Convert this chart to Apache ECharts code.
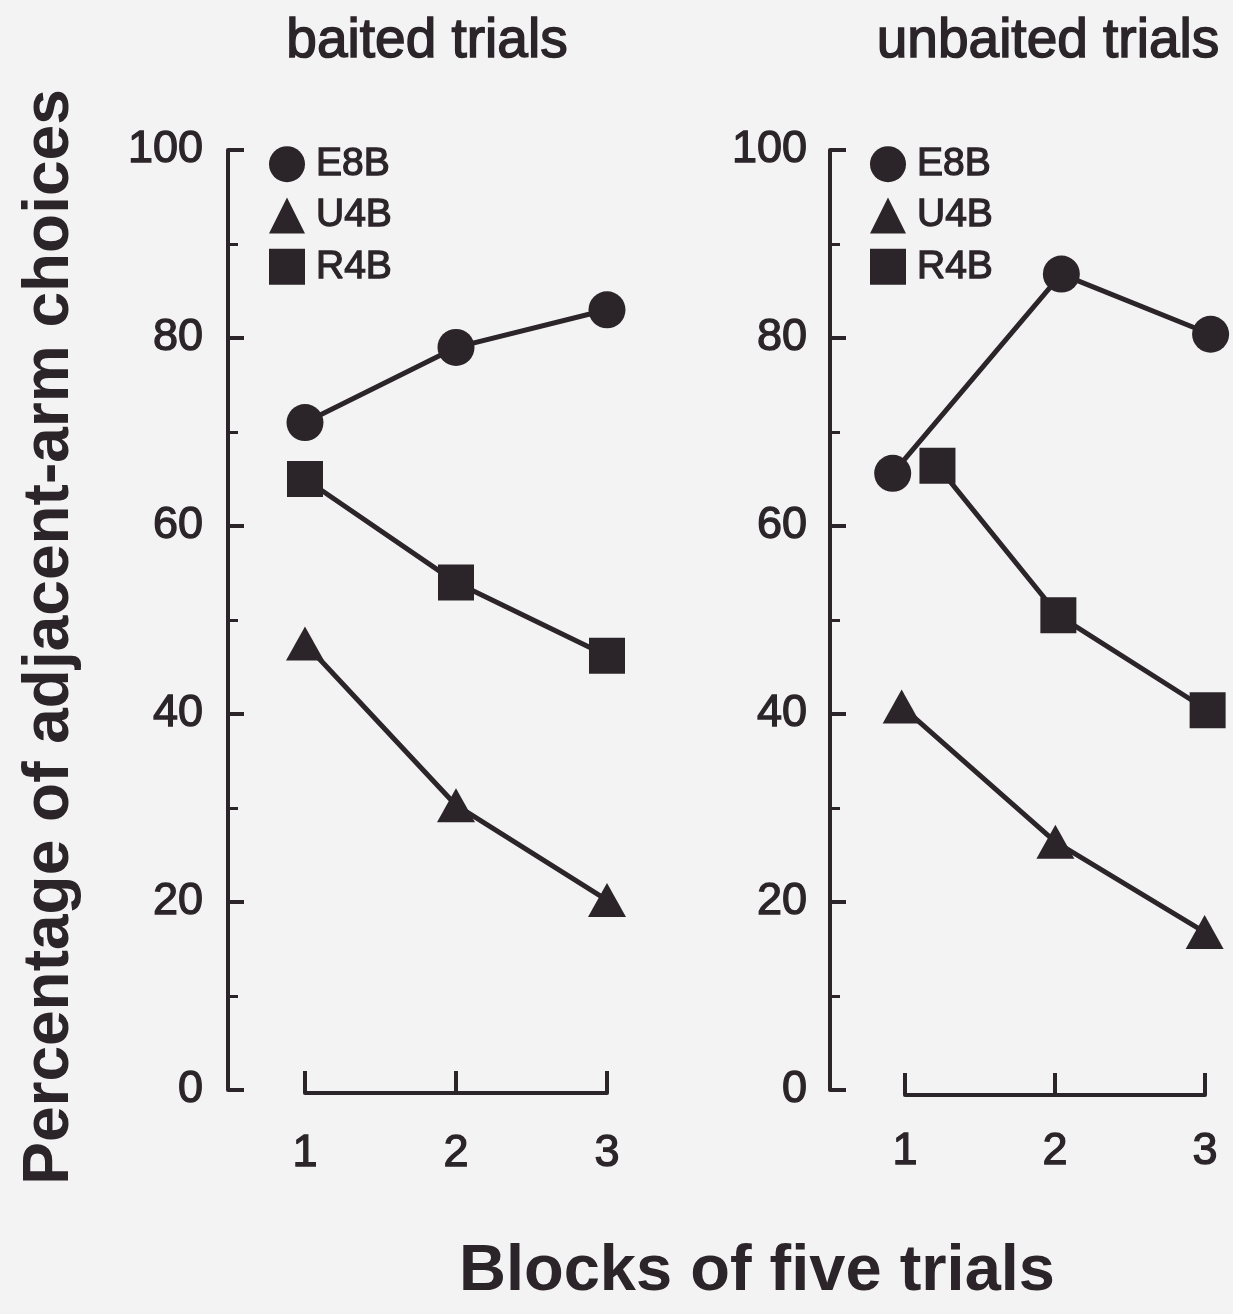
<!DOCTYPE html>
<html>
<head>
<meta charset="utf-8">
<script src="https://cdn.jsdelivr.net/npm/echarts@6/dist/echarts.min.js"></script>
<style>
  html, body { margin: 0; padding: 0; background: #f4f3f4; }
  #chart { width: 1233px; height: 1314px; }
</style>
</head>
<body>
<div id="chart"></div>
<script>
// values (percentage of adjacent-arm choices)
const groups = ['E8B', 'U4B', 'R4B'];
const blocks = [1, 2, 3];
const blockLabels = ['1', '2', '3'];
const yTicks = [0, 20, 40, 60, 80, 100];

const baitedE8B = [71, 79, 83];
const baitedU4B = [47.5, 30.3, 20.2];
const baitedR4B = [65, 54, 46.2];

// unbaited points are drawn a bit off the block positions in the original
const unbaitedE8Bx = [0.92, 2.05, 3.05];
const unbaitedE8B = [65.6, 86.8, 80.4];
const unbaitedU4Bx = [0.98, 2.01, 3.01];
const unbaitedU4B = [40.8, 26.4, 16.8];
const unbaitedR4Bx = [1.22, 2.03, 3.03];
const unbaitedR4B = [66.4, 50.5, 40.4];

const INK = '#2b2529';
const FONT = '"Liberation Sans", Arial, sans-serif';
const symbols = { E8B: 'circle', U4B: 'triangle', R4B: 'rect' };
const symbolSizes = { E8B: 37, U4B: [38, 34], R4B: 36 };

// regular face plus a thin outline, close to the medium weight of the scan
const medium = { textBorderColor: INK, textBorderWidth: 1.3 };

function pairs(xs, ys) {
  return ys.map((y, i) => [xs[i], y]);
}

function lineSeries(name, idx, data) {
  return {
    name,
    type: 'line',
    xAxisIndex: idx,
    yAxisIndex: idx,
    data,
    clip: false,
    symbol: symbols[name],
    symbolSize: symbolSizes[name],
    lineStyle: { color: INK, width: 5 },
    itemStyle: { color: INK },
    z: 3,
  };
}

function yAxisFor(gridIndex, margin) {
  return {
    gridIndex,
    type: 'value',
    min: 0,
    max: 100,
    interval: 20,
    axisLine: { show: true, lineStyle: { color: INK, width: 4 } },
    axisTick: { show: true, inside: true, length: 16, lineStyle: { color: INK, width: 4 } },
    minorTick: { show: true, splitNumber: 2, length: 10, lineStyle: { color: INK, width: 3 } },
    splitLine: { show: false },
    axisLabel: {
      margin,
      color: INK,
      fontFamily: FONT,
      fontSize: 45,
      padding: [16, 0, 0, 0],
      ...medium,
      formatter: (v) => (yTicks.includes(v) ? String(v) : ''),
    },
  };
}

function blockAxisFor(gridIndex, margin) {
  return {
    gridIndex,
    type: 'value',
    min: 1,
    max: 3,
    interval: 1,
    axisLine: { show: true, lineStyle: { color: INK, width: 4 } },
    axisTick: { show: true, inside: true, length: 22, lineStyle: { color: INK, width: 4 } },
    splitLine: { show: false },
    axisLabel: {
      margin,
      color: INK,
      fontFamily: FONT,
      fontSize: 45,
      ...medium,
      formatter: (v) => blockLabels[blocks.indexOf(v)] || '',
    },
  };
}

function legendFor(left) {
  return {
    orient: 'vertical',
    left,
    top: 139,
    itemWidth: 36,
    itemHeight: 36,
    itemGap: 11,
    selectedMode: false,
    textStyle: { color: INK, fontFamily: FONT, fontSize: 39, padding: [0, 0, 0, 6], ...medium },
    data: groups.map((g) => ({ name: g, icon: symbols[g] })),
  };
}

const chart = echarts.init(document.getElementById('chart'));

const option = {
  backgroundColor: '#f4f3f4',
  animation: false,
  grid: [
    // data panels: left edge sits on the y axis
    { left: 228, top: 150, width: 409.2, height: 940 },
    { left: 830, top: 150, width: 405, height: 940 },
    // detached block axes
    { left: 305, top: 1060, width: 302, height: 33 },
    { left: 905, top: 1062, width: 300, height: 33 },
  ],
  xAxis: [
    { gridIndex: 0, type: 'value', min: 0.4901, max: 3.2, show: false },
    { gridIndex: 1, type: 'value', min: 0.5, max: 3.2, show: false },
    blockAxisFor(2, 38),
    blockAxisFor(3, 34),
  ],
  yAxis: [
    yAxisFor(0, 25),
    yAxisFor(1, 23),
    { gridIndex: 2, type: 'value', min: 0, max: 1, show: false },
    { gridIndex: 3, type: 'value', min: 0, max: 1, show: false },
  ],
  legend: [legendFor(264), legendFor(865)],
  series: [
    lineSeries('E8B', 0, pairs(blocks, baitedE8B)),
    lineSeries('U4B', 0, pairs(blocks, baitedU4B)),
    lineSeries('R4B', 0, pairs(blocks, baitedR4B)),
    lineSeries('E8B', 1, pairs(unbaitedE8Bx, unbaitedE8B)),
    lineSeries('U4B', 1, pairs(unbaitedU4Bx, unbaitedU4B)),
    lineSeries('R4B', 1, pairs(unbaitedR4Bx, unbaitedR4B)),
  ],
  graphic: [
    {
      type: 'text', x: 427, y: 42,
      style: { text: 'baited trials', fill: INK, stroke: INK, lineWidth: 1.5, font: '55px ' + FONT, textAlign: 'center', textVerticalAlign: 'middle' },
    },
    {
      type: 'text', x: 1048, y: 42,
      style: { text: 'unbaited trials', fill: INK, stroke: INK, lineWidth: 1.5, font: '55px ' + FONT, textAlign: 'center', textVerticalAlign: 'middle' },
    },
    {
      type: 'text', x: 50, y: 637, rotation: Math.PI / 2,
      style: { text: 'Percentage of adjacent-arm choices', fill: INK, font: 'bold 64px ' + FONT, textAlign: 'center', textVerticalAlign: 'middle' },
    },
    {
      type: 'text', x: 757, y: 1272,
      style: { text: 'Blocks of five trials', fill: INK, font: 'bold 65px ' + FONT, textAlign: 'center', textVerticalAlign: 'middle' },
    },
  ],
};

chart.setOption(option);
</script>
</body>
</html>
